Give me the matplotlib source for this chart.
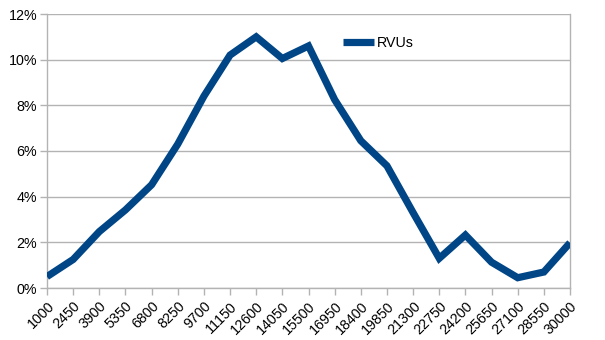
import matplotlib.pyplot as plt
from matplotlib.ticker import FuncFormatter

plt.rcParams["font.family"] = ["Liberation Sans", "DejaVu Sans"]

# RVU buckets and share of total (%)
rvu_bins = [1000, 2450, 3900, 5350, 6800, 8250, 9700, 11150, 12600, 14050,
            15500, 16950, 18400, 19850, 21300, 22750, 24200, 25650, 27100,
            28550, 30000]
rvu_share = [0.5, 1.25, 2.47, 3.42, 4.52, 6.3, 8.4, 10.2, 11.0, 10.05,
             10.6, 8.25, 6.45, 5.35, 3.3, 1.3, 2.32, 1.13, 0.45,
             0.7, 1.98]

line_color = "#004586"
grid_color = "#b3b3b3"

fig = plt.figure(figsize=(6.05, 3.4), dpi=100)
ax = fig.add_axes([47 / 605, 52 / 340, 523 / 605, 274 / 340])

x = list(range(len(rvu_bins)))
ax.plot(x, rvu_share, color=line_color, lw=5.2, label="RVUs",
        solid_joinstyle="miter", solid_capstyle="butt", zorder=3)

ax.set_xlim(0, len(rvu_bins) - 1)
ax.set_ylim(0, 12)
ax.set_yticks(range(0, 13, 2))
ax.yaxis.set_major_formatter(FuncFormatter(lambda v, _: "%d%%" % v))
ax.set_xticks(x)
ax.set_xticklabels([str(b) for b in rvu_bins], rotation=45, ha="right",
                   va="top", rotation_mode="anchor")

ax.grid(axis="y", color=grid_color, lw=1)
ax.set_axisbelow(True)
for side in ["left", "bottom", "right"]:
    ax.spines[side].set_color(grid_color)
    ax.spines[side].set_linewidth(1)
ax.spines["top"].set_visible(False)
ax.tick_params(axis="both", colors=grid_color, length=5, width=1,
               labelcolor="black", labelsize=10.3)
ax.tick_params(axis="x", pad=3)
ax.tick_params(axis="y", pad=2)

ax.legend(loc="center left", bbox_to_anchor=(0.541, 0.895), frameon=False,
          handlelength=2.15, handletextpad=0.25, fontsize=10.3)

fig.savefig("out.png", dpi=100)
